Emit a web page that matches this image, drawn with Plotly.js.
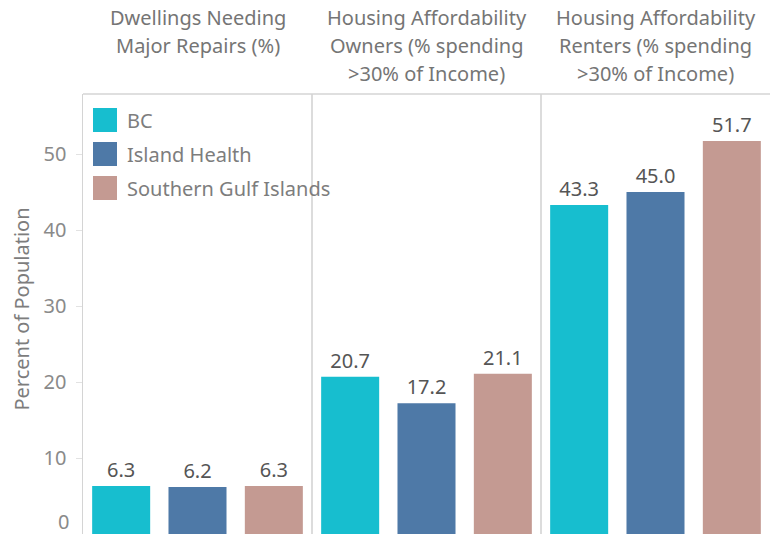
<!DOCTYPE html>
<html><head><meta charset="utf-8">
<script src="https://cdn.plot.ly/plotly-3.0.1.min.js"></script>
<style>body{margin:0;padding:0;background:#fff}#chart{width:770px;height:535px}</style>
</head><body><div id="chart"></div>
<script>
const categories = ["Major Repairs", "Affordability Owners", "Affordability Renters"];
const headerLines = [
  ["Dwellings Needing", "Major Repairs (%)"],
  ["Housing Affordability", "Owners (% spending", "&gt;30% of Income)"],
  ["Housing Affordability", "Renters (% spending", "&gt;30% of Income)"]
];
const seriesNames = ["BC", "Island Health", "Southern Gulf Islands"];
const seriesColors = ["#17BECF", "#4E79A7", "#C49A92"];
const bcValues = [6.3, 20.7, 43.3];
const islandHealthValues = [6.2, 17.2, 45.0];
const sgiValues = [6.3, 21.1, 51.7];
const yTickVals = [10, 20, 30, 40, 50];
const yTitle = "Percent of Population";

const FONT = "Noto Sans, sans-serif";
const seriesValues = [bcValues, islandHealthValues, sgiValues];
const traces = seriesNames.map((n, i) => ({
  type: "bar", name: n, x: categories, y: seriesValues[i],
  marker: {color: seriesColors[i]},
  texttemplate: "%{y:.1f}", textposition: "outside", cliponaxis: false,
  constraintext: "none",
  textfont: {family: FONT, size: 20, color: "#555"},
  showlegend: false, hoverinfo: "none"
}));

const annotations = [];
const shapes = [];
headerLines.forEach((lines, ci) => {
  lines.forEach((t, li) => {
    annotations.push({xref: "x", yref: "paper", x: categories[ci], y: 1, yanchor: "middle",
      yshift: 77 - li * 28, text: t, showarrow: false,
      font: {family: FONT, size: 20, color: "#757575"}});
  });
});
seriesNames.forEach((n, i) => {
  shapes.push({type: "rect", xref: "paper", yref: "paper", xsizemode: "pixel", ysizemode: "pixel",
    xanchor: 0, yanchor: 1, x0: 10, x1: 34, y0: -14 - i * 34, y1: -38 - i * 34,
    fillcolor: seriesColors[i], line: {width: 0}});
  annotations.push({xref: "paper", yref: "paper", x: 0, y: 1, xanchor: "left", yanchor: "middle",
    xshift: 42, yshift: -26 - i * 34, text: n, showarrow: false,
    font: {family: FONT, size: 20, color: "#7d7d7d"}});
});
[0.5, 1.5].forEach(v => shapes.push({type: "line", xref: "x", yref: "paper", x0: v, x1: v, y0: 0, y1: 1,
  line: {color: "#d0d0d0", width: 1.5}}));
shapes.push({type: "line", xref: "paper", yref: "paper", x0: 0, x1: 1, y0: 1, y1: 1,
  line: {color: "#d4d4d4", width: 1.5}});
annotations.push({xref: "paper", yref: "y", x: 0, y: 0, xanchor: "right", yanchor: "middle",
  xshift: -12, yshift: 13, text: "0", showarrow: false, font: {family: FONT, size: 20, color: "#8a8a8a"}});
annotations.push({xref: "paper", yref: "paper", x: 0, y: 0.51, xanchor: "center", yanchor: "middle",
  xshift: -61, textangle: -90,
  text: yTitle, showarrow: false, font: {family: FONT, size: 20, color: "#7d7d7d"}});

const layout = {
  width: 770, height: 535,
  margin: {l: 83, r: 0, t: 94, b: 1, pad: 0},
  paper_bgcolor: "#fff", plot_bgcolor: "#fff",
  barmode: "group", bargap: 0, bargroupgap: 0.24,
  font: {family: FONT, color: "#777"},
  xaxis: {type: "category", range: [-0.5, 2.5], showticklabels: false, ticks: "", showgrid: false,
    zeroline: false, showline: false, fixedrange: true},
  yaxis: {range: [0, 57.9], tickvals: yTickVals, showgrid: false, zeroline: false,
    showline: true, linecolor: "#d4d4d4", linewidth: 1.5, ticks: "outside", ticklen: 6, tickcolor: "#e2e2e2",
    ticklabelstandoff: 5, tickfont: {family: FONT, size: 20, color: "#8a8a8a"}, fixedrange: true},
  shapes: shapes, annotations: annotations, showlegend: false
};
Plotly.newPlot("chart", traces, layout, {displayModeBar: false, staticPlot: true});
</script></body></html>
